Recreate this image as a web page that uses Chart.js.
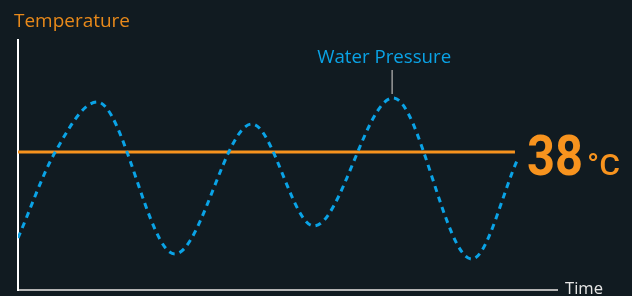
<!DOCTYPE html>
<html>
<head>
<meta charset="utf-8">
<script src="https://cdn.jsdelivr.net/npm/chart.js@4.4.1/dist/chart.umd.min.js"></script>
<style>
  html, body { margin: 0; padding: 0; background: #111b21; }
  #wrap { width: 632px; height: 296px; position: relative; }
</style>
</head>
<body>
<div id="wrap"><canvas id="chart"></canvas></div>
<script>
// data (time 0-100, value 0-100)
const pressureTimes = [0, 6.9, 14.7, 29.1, 43.4, 54.9, 69.6, 84.2, 92.8];
const pressureValues = [20.8, 55.2, 75.2, 14.4, 66.4, 25.6, 76.8, 12.4, 52.8];
const temperatureTimes = [0, 92.2];
const temperatureValues = [55.2, 55.2];
const temperatureReading = '38';
const temperatureUnit = '°C';
const seriesNames = ['Water Pressure', 'Temperature'];
const axisTitles = ['Time', 'Temperature'];

const ORANGE = '#f7931e';
const BLUE = '#0aa3e6';

function toPoints(xs, ys) {
    return xs.map(function (x, i) { return { x: x, y: ys[i] }; });
}

// draws text squeezed/stretched to a given width
function fitText(ctx, text, x, y, width) {
    const w = ctx.measureText(text).width;
    ctx.save();
    ctx.translate(x, y);
    ctx.scale(width / w, 1);
    ctx.fillText(text, 0, 0);
    ctx.restore();
}

// labels, leader line and big reading
const labelsPlugin = {
    id: 'labels',
    afterDraw: function (chart) {
        const ctx = chart.ctx;
        const xs = chart.scales.x;
        const ys = chart.scales.y;
        ctx.save();
        ctx.textBaseline = 'alphabetic';
        ctx.textAlign = 'left';

        // y axis title
        ctx.fillStyle = '#e8891a';
        ctx.font = '19px "Open Sans"';
        fitText(ctx, axisTitles[1], 14, 27, 116);

        // x axis title
        ctx.fillStyle = '#e6e6e6';
        ctx.font = '17px "Open Sans"';
        fitText(ctx, axisTitles[0], 565, 294, 38);

        // water pressure label on the highest peak
        let peak = 0;
        pressureValues.forEach(function (v, i) { if (v > pressureValues[peak]) peak = i; });
        const px = xs.getPixelForValue(pressureTimes[peak]);
        const py = ys.getPixelForValue(pressureValues[peak]);
        ctx.strokeStyle = '#9a9a9a';
        ctx.lineWidth = 1.5;
        ctx.beginPath();
        ctx.moveTo(px - 1, py - 4);
        ctx.lineTo(px - 1, 70);
        ctx.stroke();
        ctx.fillStyle = BLUE;
        ctx.font = '19px "Open Sans"';
        fitText(ctx, seriesNames[0], px - 76, 63, 134);

        // big temperature reading
        const ty = ys.getPixelForValue(temperatureValues[0]);
        ctx.fillStyle = ORANGE;
        ctx.font = 'bold 56px Roboto';
        fitText(ctx, temperatureReading, 527, ty + 23, 56);
        ctx.font = '500 30px Roboto';
        fitText(ctx, temperatureUnit, 587, ty + 23, 33);

        ctx.restore();
    }
};

new Chart(document.getElementById('chart'), {
    type: 'line',
    data: {
        datasets: [{
            label: seriesNames[0],
            data: toPoints(pressureTimes, pressureValues),
            borderColor: BLUE,
            borderWidth: 3,
            borderDash: [6, 5],
            cubicInterpolationMode: 'monotone',
            pointRadius: 0,
            fill: false
        }, {
            label: seriesNames[1],
            data: toPoints(temperatureTimes, temperatureValues),
            borderColor: ORANGE,
            borderWidth: 3,
            pointRadius: 0,
            fill: false
        }]
    },
    options: {
        responsive: true,
        maintainAspectRatio: false,
        animation: false,
        layout: { padding: { left: 18, right: 75, top: 40, bottom: 6 } },
        plugins: {
            legend: { display: false },
            tooltip: { enabled: false }
        },
        scales: {
            x: {
                type: 'linear',
                min: 0,
                max: 100,
                grid: { display: false },
                ticks: { display: false },
                border: { color: '#b4b4b4', width: 2 },
                afterFit: function (scale) { scale.height = 0; }
            },
            y: {
                min: 0,
                max: 100,
                grid: { display: false },
                ticks: { display: false },
                border: { color: '#ffffff', width: 2 },
                afterFit: function (scale) { scale.width = 0; }
            }
        }
    },
    plugins: [labelsPlugin]
});
</script>
</body>
</html>
